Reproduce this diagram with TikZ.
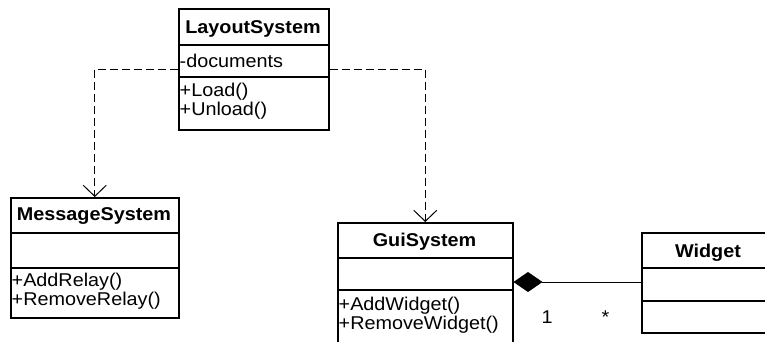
\documentclass[tikz,border=0pt]{standalone}
\usepackage{fontspec}
\setmainfont[FakeStretch=1.07]{Liberation Sans}
\usetikzlibrary{arrows.meta}
\begin{document}
\begin{tikzpicture}[x=1pt,y=-1pt,
  font=\fontsize{18.5}{22}\selectfont,
  classbox/.style={draw, line width=1.5pt, inner sep=0pt, anchor=north west},
  sepline/.style={line width=1.5pt},
  cname/.style={anchor=base, inner sep=0pt, font=\fontsize{18.5}{22}\selectfont\bfseries},
  member/.style={anchor=base west, inner sep=0pt},
  mult/.style={anchor=base, inner sep=0pt},
  dep/.style={line width=1pt, dash pattern=on 8pt off 4pt, -{Straight Barb[length=11pt,width=23pt]}},
  comp/.style={line width=1pt, {Diamond[length=29pt,width=20pt]}-}]
\useasboundingbox (0,0) rectangle (765,341);
\clip (0,0) rectangle (765,341);
% LayoutSystem
\node[classbox, minimum width=150pt, minimum height=121pt] (layout) at (178,8) {};
\draw[sepline] (layout.west |- 0,45) -- (layout.east |- 0,45);
\draw[sepline] (layout.west |- 0,77) -- (layout.east |- 0,77);
\node[cname] (layoutname) at (253,33) {LayoutSystem};
\node[member] (ldoc) at (179.5,67) {-documents};
\node[member] (lload) at (179.5,96) {+Load()};
\node[member] (lunload) at (179.5,115) {+Unload()};
% MessageSystem
\node[classbox, minimum width=168pt, minimum height=120pt] (msg) at (10,197) {};
\draw[sepline] (msg.west |- 0,233) -- (msg.east |- 0,233);
\draw[sepline] (msg.west |- 0,268) -- (msg.east |- 0,268);
\node[cname] (msgname) at (94,220.5) {MessageSystem};
\node[member] (madd) at (11.5,286) {+AddRelay()};
\node[member] (mrem) at (11.5,305) {+RemoveRelay()};
% GuiSystem
\node[classbox, minimum width=175pt, minimum height=140pt] (gui) at (337,222) {};
\draw[sepline] (gui.west |- 0,258) -- (gui.east |- 0,258);
\draw[sepline] (gui.west |- 0,290) -- (gui.east |- 0,290);
\node[cname] (guiname) at (424.5,246.5) {GuiSystem};
\node[member] (gadd) at (338.5,310) {+AddWidget()};
\node[member] (grem) at (338.5,329.5) {+RemoveWidget()};
% Widget
\node[classbox, minimum width=134pt, minimum height=100pt] (widget) at (641,232) {};
\draw[sepline] (widget.west |- 0,268) -- (widget.east |- 0,268);
\draw[sepline] (widget.west |- 0,301) -- (widget.east |- 0,301);
\node[cname] (widgetname) at (708,257) {Widget};
% connectors
\draw[dep] (layout.west) -| (msg.north);
\draw[dep] (layout.east) -| (gui.north);
\draw[comp] (gui.east |- 0,282) -- (widget.west |- 0,282);
\node[mult] (m1) at (547,323) {1};
\node[mult] (m2) at (605.5,323) {*};
\end{tikzpicture}
\end{document}
